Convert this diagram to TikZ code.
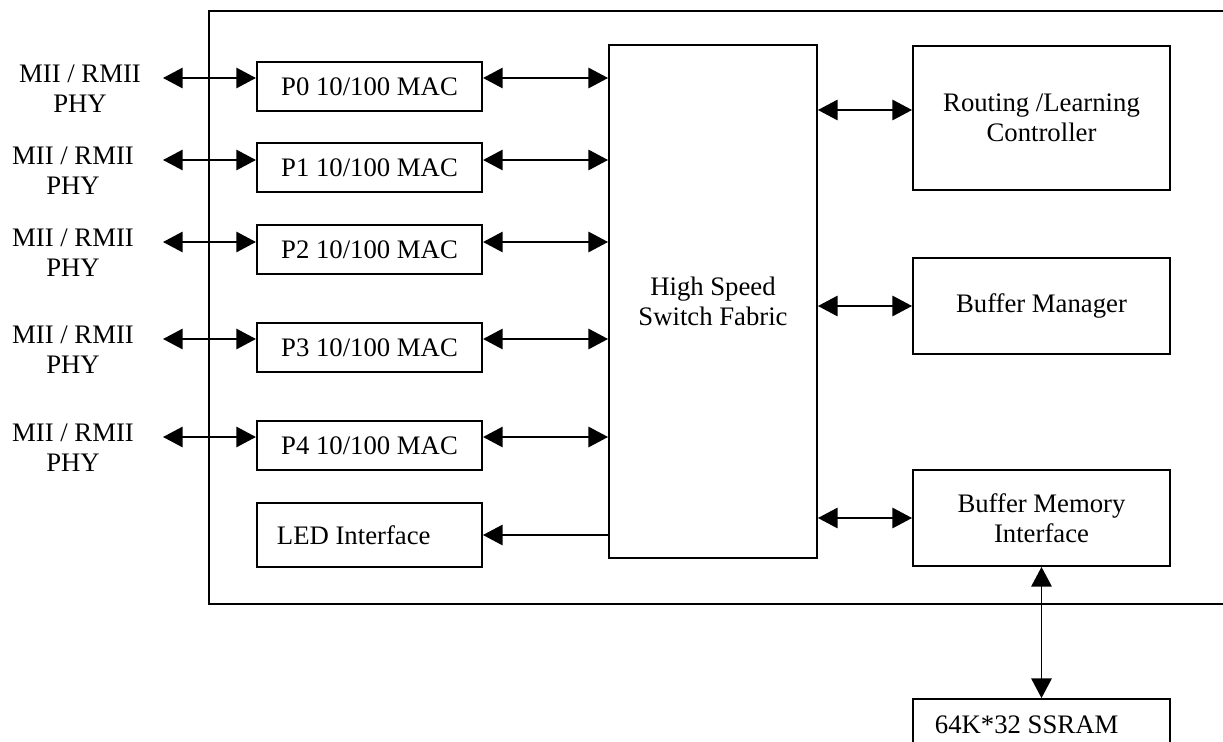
\documentclass[tikz,border=0pt]{standalone}
\usepackage{fontspec}
\setmainfont{Liberation Serif}
\usepackage{tikz}
\usetikzlibrary{calc,positioning,arrows.meta}
\tikzset{
  blk/.style={draw,rectangle,inner sep=0pt,align=center},
  mac/.style={blk,minimum width=5.63cm,minimum height=1.225cm},
  side/.style={blk,minimum width=6.425cm,minimum height=2.4cm},
  phylbl/.style={align=center,inner sep=0pt}
}

\begin{document}
\begin{tikzpicture}[x=0.025cm,y=-0.025cm,line width=1.3pt,>={Triangle[length=14pt,width=14.5pt]},font=\fontsize{19}{21.5}\selectfont]
\path[use as bounding box,clip] (0,0) rectangle (1223,742);
\draw (209,11) rectangle (1260,604);
\node[mac] (mac0) at (369.5,86.5) {P0 10/100 MAC};
\node[mac] (mac1) at (369.5,167.5) {P1 10/100 MAC};
\node[mac] (mac2) at (369.5,249.5) {P2 10/100 MAC};
\node[mac] (mac3) at (369.5,347.5) {P3 10/100 MAC};
\node[mac] (mac4) at (369.5,445.5) {P4 10/100 MAC};
\node[blk,minimum height=1.6cm,text width=4.625cm,inner xsep=0.5cm,align=flush left] (led) at (369.5,535) {LED Interface};
\node[blk,minimum width=5.2cm,minimum height=12.825cm] (fab) at (713,301.5) {High Speed\\Switch Fabric};
\node[side,minimum height=3.6cm] (route) at (1041.5,118) {Routing /Learning\\Controller};
\node[side] (bufm) at (1041.5,306) {Buffer Manager};
\node[side] (bmi) at (1041.5,518) {Buffer Memory\\Interface};
\node[blk,minimum height=1.3cm,text width=5.325cm,inner xsep=0.55cm,align=flush left] (ssram) at (1041.5,725) {64K*32 SSRAM};
\node[phylbl] (lbl0) at (80,89) {MII / RMII\\PHY};
\node[phylbl] (lbl1) at (73,171) {MII / RMII\\PHY};
\node[phylbl] (lbl2) at (73,253) {MII / RMII\\PHY};
\node[phylbl] (lbl3) at (73,350) {MII / RMII\\PHY};
\node[phylbl] (lbl4) at (73,448) {MII / RMII\\PHY};
\coordinate (phy0) at (163,78);
\coordinate (phy1) at (163,160);
\coordinate (phy2) at (163,242);
\coordinate (phy3) at (163,339);
\coordinate (phy4) at (163,437);
\coordinate (rt) at (865,110);
\draw[<->] (phy0) -- (phy0 -| mac0.west);
\draw[<->] (phy1) -- (phy1 -| mac1.west);
\draw[<->] (phy2) -- (phy2 -| mac2.west);
\draw[<->] (phy3) -- (phy3 -| mac3.west);
\draw[<->] (phy4) -- (phy4 -| mac4.west);
\draw[<->] (mac0.east |- phy0) -- (fab.west |- phy0);
\draw[<->] (mac1.east |- phy1) -- (fab.west |- phy1);
\draw[<->] (mac2.east |- phy2) -- (fab.west |- phy2);
\draw[<->] (mac3.east |- phy3) -- (fab.west |- phy3);
\draw[<->] (mac4.east |- phy4) -- (fab.west |- phy4);
\draw[->] (fab.west |- led.east) -- (led.east);
\draw[<->] (fab.east |- rt) -- (route.west |- rt);
\draw[<->] (fab.east |- bufm.west) -- (bufm.west);
\draw[<->] (fab.east |- bmi.west) -- (bmi.west);
\draw[<->] (bmi.south) -- (ssram.north);
\end{tikzpicture}
\end{document}
